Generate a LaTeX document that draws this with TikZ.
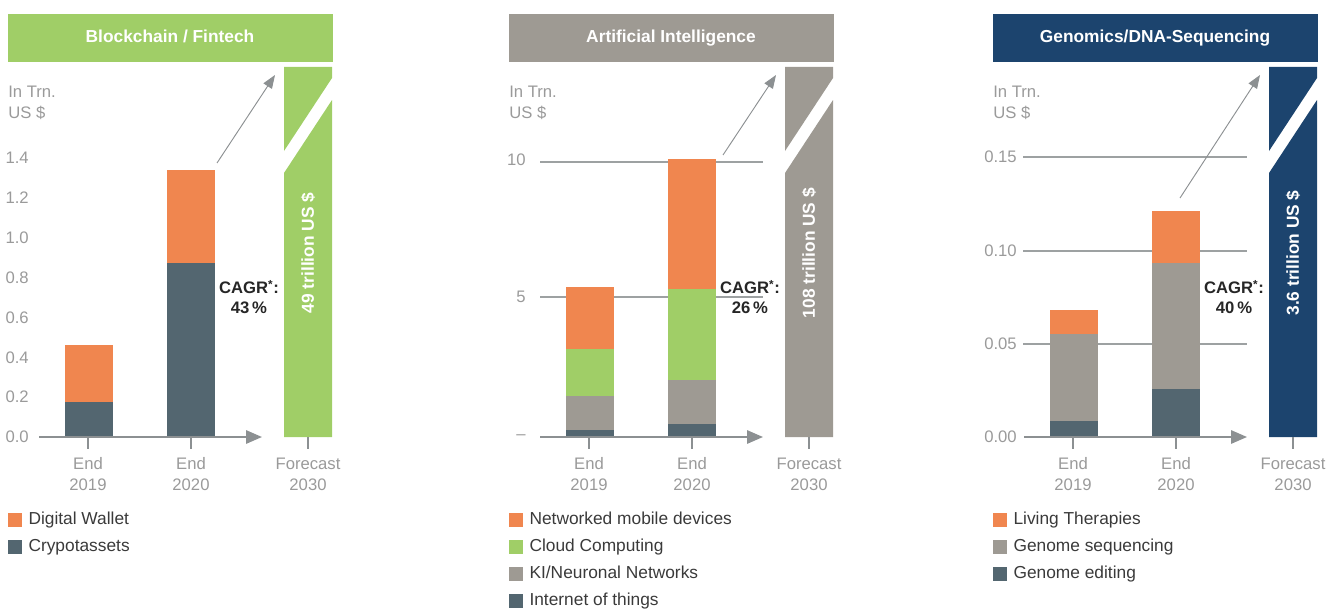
\documentclass[tikz,border=0pt]{standalone}
\usepackage{fontspec}
\setmainfont{Liberation Sans}
\usetikzlibrary{arrows.meta,positioning}
\definecolor{fintech}{HTML}{A0CE67}
\definecolor{aigray}{HTML}{9E9A93}
\definecolor{genom}{HTML}{1C446E}
\definecolor{wallet}{HTML}{F0864F}
\definecolor{slate}{HTML}{536670}
\definecolor{axisgray}{HTML}{8C9092}
\definecolor{labgray}{HTML}{9A9A9A}
\definecolor{legdark}{HTML}{3A3A3A}
\tikzstyle{hdr}=[minimum width=243.75pt,minimum height=36pt,inner sep=0pt,
                 text height=0.72em,text depth=0pt,
                 text=white,font=\fontsize{13}{15}\selectfont\bfseries]
\tikzstyle{xaxis}=[draw=axisgray,line width=1.5pt,
                   -{Triangle[length=12pt,width=10pt]}]
\tikzstyle{tickmark}=[draw=axisgray,line width=1.5pt]
\tikzstyle{gridline}=[draw=axisgray!85,line width=1.1pt]
\tikzstyle{growarrow}=[draw=axisgray,line width=0.7pt,
                       -{Triangle[length=10pt,width=7.5pt]}]
\tikzstyle{ylab}=[anchor=east,inner sep=0pt,text=labgray,
                  font=\fontsize{12.5}{15.75}\selectfont]
\tikzstyle{xlab}=[align=center,inner sep=0pt,text=labgray,
                  font=\fontsize{12.5}{15.75}\selectfont]
\tikzstyle{cagr}=[align=center,inner sep=0pt,text=black!85,
                  font=\fontsize{12.5}{15}\selectfont\bfseries]
\tikzstyle{fctext}=[rotate=90,inner sep=0pt,text=white,
                    font=\fontsize{13}{15}\selectfont\bfseries]
\tikzstyle{key}=[minimum size=10.5pt,inner sep=0pt]
\tikzstyle{legtext}=[inner sep=0pt,text=legdark,
                     text height=0.72em,text depth=0pt,
                     font=\fontsize{13}{15}\selectfont]

\begin{document}
\begin{tikzpicture}[x=0.75pt,y=-0.75pt]
  \clip (0,0) rectangle (1326,610);
  % grid lines (behind the bars)
  \foreach \y in {162,297}
    \draw[gridline] (540,\y) -- (763,\y);
  \foreach \y in {157,251,344}
    \draw[gridline] (1023,\y) -- (1247,\y);
  % stacked bars: x / top / bottom / colour
  \foreach \xa/\ya/\yb/\c in {65/402/437/slate, 65/345/402/wallet,
      167/263/437/slate, 167/170/263/wallet,
      566/430/437/slate, 566/396/430/aigray, 566/349/396/fintech, 566/287/349/wallet,
      668/424/437/slate, 668/380/424/aigray, 668/289/380/fintech, 668/159/289/wallet,
      1050/421/437/slate, 1050/334/421/aigray, 1050/310/334/wallet,
      1152/389/437/slate, 1152/263/389/aigray, 1152/211/263/wallet}
    \fill[\c] (\xa,\ya) rectangle (\xa+48,\yb);
  % frame of each panel
  \foreach \i/\dx/\col/\title/\fc/\rate/\ax/\ay in
      {1/0/fintech/{Blockchain / Fintech}/{49 trillion US \$}/43/217/163,
       2/501/aigray/{Artificial Intelligence}/{108 trillion US \$}/26/222/155,
       3/985/genom/{Genomics/DNA-Sequencing}/{3.6 trillion US \$}/40/195/198}{
    \begin{scope}[shift={(\dx,0)}]
      \node[hdr,fill=\col] (hd\i) at (170,38) {\title};
      \node[xlab,anchor=west,align=left] (un\i) at (8,102.5) {In Trn.\\US \$};
      % forecast bar, broken by a white slash
      \fill[\col] (284,67) -- (332,67) -- (332,78) -- (284,151) -- cycle;
      \fill[\col] (284,173) -- (332,100) -- (332,437) -- (284,437) -- cycle;
      \node[fctext] (fc\i) at (308,253) {\fc};
      \node[cagr] (cg\i) at (249,297) {CAGR\textsuperscript{*}:\\\rate\,\%};
      % axis with ticks
      \coordinate (o\i) at (39,437);
      \coordinate (e\i) at (262,437);
      \draw[xaxis] (o\i) -- (e\i);
      \foreach \x in {88,191,308}
        \draw[tickmark] (\x,437) -- (\x,449);
      \node[xlab] (xa\i) at (88,474) {End\\2019};
      \node[xlab] (xb\i) at (191,474) {End\\2020};
      \node[xlab] (xc\i) at (308,474) {Forecast\\2030};
      % growth arrow
      \coordinate (as\i) at (\ax,\ay);
      \coordinate (at\i) at (275,75);
      \draw[growarrow] (as\i) -- (at\i);
    \end{scope}
  }
  % value labels
  \foreach \v/\y [count=\k] in {0.0/437,0.2/397,0.4/358,0.6/318,
                                0.8/278,1.0/238,1.2/198,1.4/158}
    \node[ylab] (ya\k) at (29,\y) {\v};
  \foreach \v/\y [count=\k] in {--/437,5/297,10/160}
    \node[ylab] (yb\k) at (526,\y) {\v};
  \foreach \v/\y [count=\k] in {0.00/437,0.05/344,0.10/251,0.15/157}
    \node[ylab] (yc\k) at (1017,\y) {\v};
  % legends
  \foreach \c/\t [count=\k] in {wallet/Digital Wallet, slate/Crypotassets}{
    \node[key,fill=\c] (ka\k) at (15,493+27*\k) {};
    \node[legtext,right=4.5pt of ka\k] (la\k) {\t};
  }
  \foreach \c/\t [count=\k] in {wallet/Networked mobile devices,
      fintech/Cloud Computing, aigray/{KI/Neuronal Networks},
      slate/Internet of things}{
    \node[key,fill=\c] (kb\k) at (516,493+27*\k) {};
    \node[legtext,right=4.5pt of kb\k] (lb\k) {\t};
  }
  \foreach \c/\t [count=\k] in {wallet/Living Therapies,
      aigray/Genome sequencing, slate/Genome editing}{
    \node[key,fill=\c] (kc\k) at (1000,493+27*\k) {};
    \node[legtext,right=4.5pt of kc\k] (lc\k) {\t};
  }
\end{tikzpicture}
\end{document}
